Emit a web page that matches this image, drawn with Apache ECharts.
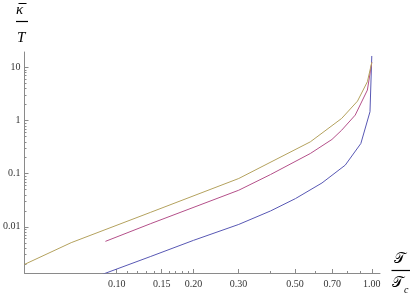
<!DOCTYPE html>
<html><head><meta charset="utf-8">
<script src="https://cdn.jsdelivr.net/npm/echarts@6/dist/echarts.min.js"></script>
<style>html,body{margin:0;padding:0;background:#fff}#c{width:415px;height:297px}</style>
</head><body><div id="c"></div>
<script>
// Data (x = T/Tc, y = kappa-bar / T)
const tBlue   = [0.085, 0.136, 0.2, 0.301, 0.401, 0.502, 0.638, 0.787, 0.906, 0.984, 1.0];
const kBlue   = [0.0012, 0.00277, 0.00556, 0.0111, 0.0199, 0.034, 0.067, 0.145, 0.371, 1.47, 16.5];
const tPurple = [0.0903, 0.136, 0.301, 0.401, 0.574, 0.698, 0.762, 0.861, 0.961, 1.0];
const kPurple = [0.00532, 0.0115, 0.0489, 0.0966, 0.24, 0.442, 0.66, 1.27, 3.76, 12.5];
const tGold   = [0.0435, 0.0663, 0.136, 0.301, 0.574, 0.762, 0.879, 0.961, 1.0];
const kGold   = [0.00196, 0.00503, 0.0188, 0.0813, 0.398, 1.10, 2.33, 5.4, 12.5];

const xMajorTicks = [0.10, 0.15, 0.20, 0.30, 0.50, 0.70, 1.00];
const xMinorTicks = [0.11, 0.12, 0.13, 0.14, 0.16, 0.17, 0.18, 0.19, 0.4, 0.6, 0.8, 0.9];
const yMajorTicks = [0.01, 0.1, 1, 10];
const yMinorTicks = [0.002,0.003,0.004,0.005,0.006,0.007,0.008,0.009,
  0.02,0.03,0.04,0.05,0.06,0.07,0.08,0.09,
  0.2,0.3,0.4,0.5,0.6,0.7,0.8,0.9,
  2,3,4,5,6,7,8,9];

const X_MIN = 0.0435, X_MAX = 1.077, Y_MIN = 0.00135, Y_MAX = 19.6;

const zip = (a, b) => a.map((v, i) => [v, b[i]]);
const axisGray = '#8a8a8a';
const labelFont = {fontFamily: '"Liberation Serif", serif', fontSize: 10, color: '#333'};

const chart = echarts.init(document.getElementById('c'), null, {renderer: 'canvas'});
const baseX = {type: 'log', min: X_MIN, max: X_MAX, splitLine: {show: false}, gridIndex: 0};
const baseY = {type: 'log', min: Y_MIN, max: Y_MAX, splitLine: {show: false}, gridIndex: 0};
chart.setOption({
  animation: false,
  grid: {left: 23, right: 35, top: 52, bottom: 24, containLabel: false},
  xAxis: [
    Object.assign({}, baseX, {
      position: 'bottom',
      axisLine: {show: true, lineStyle: {color: axisGray, width: 1}},
      axisTick: {show: true, inside: true, length: 4, customValues: xMajorTicks, lineStyle: {color: axisGray}},
      axisLabel: Object.assign({show: true, margin: 6, customValues: xMajorTicks,
        formatter: v => Number(v).toFixed(2)}, labelFont)
    }),
    Object.assign({}, baseX, {
      position: 'bottom',
      axisLine: {show: false},
      axisTick: {show: true, inside: true, length: 2, customValues: xMinorTicks, lineStyle: {color: axisGray}},
      axisLabel: {show: false}
    })
  ],
  yAxis: [
    Object.assign({}, baseY, {
      position: 'left',
      axisLine: {show: true, lineStyle: {color: axisGray, width: 1}},
      axisTick: {show: true, inside: true, length: 4, customValues: yMajorTicks, lineStyle: {color: axisGray}},
      axisLabel: Object.assign({show: true, margin: 4, customValues: yMajorTicks,
        formatter: v => String(Number(Number(v).toPrecision(1)))}, labelFont)
    }),
    Object.assign({}, baseY, {
      position: 'left',
      axisLine: {show: false},
      axisTick: {show: true, inside: true, length: 2, customValues: yMinorTicks, lineStyle: {color: axisGray}},
      axisLabel: {show: false}
    })
  ],
  series: [
    {type: 'line', data: zip(tBlue, kBlue), showSymbol: false, clip: true,
      lineStyle: {color: '#5858b4', width: 1}, itemStyle: {color: '#5858b4'}},
    {type: 'line', data: zip(tPurple, kPurple), showSymbol: false, clip: true,
      lineStyle: {color: '#b4508a', width: 1}, itemStyle: {color: '#b4508a'}},
    {type: 'line', data: zip(tGold, kGold), showSymbol: false, clip: true,
      lineStyle: {color: '#b4a25e', width: 1}, itemStyle: {color: '#b4a25e'}}
  ],
  graphic: [
    {type: 'text', left: 16, top: 3, style: {text: 'κ', font: 'italic 15px "Liberation Serif"', fill: '#000'}},
    {type: 'line', shape: {x1: 18.5, y1: 3.5, x2: 26.5, y2: 3.5}, style: {stroke: '#000', lineWidth: 1}},
    {type: 'line', shape: {x1: 16, y1: 21.5, x2: 28, y2: 21.5}, style: {stroke: '#000', lineWidth: 1.2}},
    {type: 'text', left: 17, top: 31, style: {text: 'T', font: 'italic 15px "Liberation Serif"', fill: '#000'}},
    {type: 'text', left: 394, top: 252, style: {text: '𝒯', font: '15px "DejaVu Serif", "DejaVu Sans", serif', fill: '#000'}},
    {type: 'line', shape: {x1: 391.5, y1: 270.5, x2: 410, y2: 270.5}, style: {stroke: '#000', lineWidth: 1.2}},
    {type: 'text', left: 392, top: 276, style: {text: '𝒯', font: '15px "DejaVu Serif", "DejaVu Sans", serif', fill: '#000'}},
    {type: 'text', left: 404, top: 285, style: {text: 'c', font: 'italic 10px "Liberation Serif"', fill: '#000'}}
  ]
});
</script></body></html>
